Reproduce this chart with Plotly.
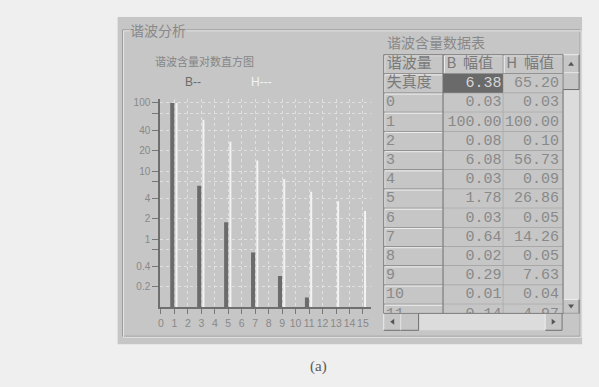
import plotly.graph_objects as go

W, H = 599, 387

# Harmonic spectrum, amplitude in % of the fundamental
harmonics = list(range(16))
b_amp = [0.03, 100.00, 0.08, 6.08, 0.03, 1.78, 0.03, 0.64, 0.02, 0.29, 0.01, 0.14, 0.01, 0.06, 0.01, 0.04]
h_amp = [0.03, 100.00, 0.10, 56.73, 0.09, 26.86, 0.05, 14.26, 0.05, 7.63, 0.04, 4.97, 0.03, 3.60, 0.03, 2.60]
y_ticks = [0.2, 0.4, 1, 2, 4, 10, 20, 40, 100]
y_tick_labels = ["0.2", "0.4", "1", "2", "4", "10", "20", "40", "100"]
y_minor = [0.7, 7, 70]

# Data table
table_header = ["谐波量", "B  幅值", "H  幅值"]
thd_label = "失真度"
thd_b = 6.38
thd_h = 65.20
table_orders = list(range(12))

PAGE = "#efefef"
PANEL = "#c6c6c6"
TRACK = "#dcdcdc"
TEXT = "#898989"
DARK = "#6e6e6e"
LIGHT = "#ececec"
BAR_B = "#6b6b6b"
BAR_H = "#f3f3f3"
CJK = "Noto Sans CJK SC"
MONO = "Liberation Mono"


def fx(x):
    return x / W


def fy(y):
    return 1 - y / H


shapes = []
annotations = []


def prect(x0, y0, x1, y1, fill, line=None, layer="below", width=1):
    shapes.append(dict(type="rect", xref="paper", yref="paper",
                       x0=fx(x0), x1=fx(x1), y0=fy(y1), y1=fy(y0),
                       fillcolor=fill, layer=layer,
                       line=dict(color=line or fill, width=width if line else 0)))


def pline(x0, y0, x1, y1, color, layer="below", width=1):
    shapes.append(dict(type="line", xref="paper", yref="paper",
                       x0=fx(x0), x1=fx(x1), y0=fy(y0), y1=fy(y1),
                       layer=layer, line=dict(color=color, width=width)))


def ptri(points, color="#555555"):
    d = "M " + " L ".join("%.5f,%.5f" % (fx(x), fy(y)) for x, y in points) + " Z"
    shapes.append(dict(type="path", xref="paper", yref="paper", path=d,
                       fillcolor=color, layer="above", line=dict(width=0)))


def raised(x0, y0, x1, y1, layer="above"):
    prect(x0, y0, x1, y1, PANEL, layer=layer)
    pline(x0, y0, x1, y0, LIGHT, layer)
    pline(x0, y0, x0, y1, LIGHT, layer)
    pline(x0, y1, x1, y1, DARK, layer)
    pline(x1, y0, x1, y1, DARK, layer)


# dialog panel
prect(116, 15, 582, 344, PANEL)

# etched group box
for off, col in ((0, "#9a9a9a"), (1, "#e6e6e6")):
    pline(121 + off, 28 + off, 580 + off, 28 + off, col)
    pline(121 + off, 28 + off, 121 + off, 336 + off, col)
    pline(121 + off, 336 + off, 580 + off, 336 + off, col)
    pline(580 + off, 28 + off, 580 + off, 336 + off, col)

annotations.append(dict(text="谐波分析", x=fx(127), y=fy(28), xref="paper", yref="paper",
                        xanchor="left", yanchor="middle", showarrow=False, bgcolor=PANEL,
                        borderpad=0, font=dict(family=CJK, size=14, color=TEXT)))
annotations.append(dict(text="谐波含量对数直方图", x=fx(203), y=fy(59), xref="paper", yref="paper",
                        xanchor="center", yanchor="middle", showarrow=False,
                        font=dict(family=CJK, size=11, color="#858585")))
annotations.append(dict(text="B--", x=fx(182), y=fy(80), xref="paper", yref="paper",
                        xanchor="left", yanchor="middle", showarrow=False,
                        font=dict(family="Liberation Sans", size=12, color=BAR_B)))
annotations.append(dict(text="H---", x=fx(248), y=fy(80), xref="paper", yref="paper",
                        xanchor="left", yanchor="middle", showarrow=False,
                        font=dict(family="Liberation Sans", size=12, color=BAR_H)))
annotations.append(dict(text="谐波含量数据表", x=fx(384), y=fy(40), xref="paper", yref="paper",
                        xanchor="left", yanchor="middle", showarrow=False,
                        font=dict(family=CJK, size=14, color=TEXT)))
annotations.append(dict(text="(a)", x=fx(318), y=fy(366), xref="paper", yref="paper",
                        xanchor="center", yanchor="middle", showarrow=False,
                        font=dict(family="Liberation Serif", size=15, color="#5a5a5a")))

fig = go.Figure()

# spectrum bars
fig.add_trace(go.Bar(x=harmonics, y=b_amp, width=0.3, offset=-0.31,
                     marker=dict(color=BAR_B, line=dict(width=0)), name="B",
                     xaxis="x", yaxis="y"))
fig.add_trace(go.Bar(x=harmonics, y=h_amp, width=0.15, offset=0.08,
                     marker=dict(color=BAR_H, line=dict(width=0)), name="H",
                     xaxis="x", yaxis="y"))

# ---- data table on its own axes: columns 0..3, rows 0 (header) downward ----
n_rows = 2 + len(table_orders)
row_px = 19.3
visible_rows = (313 - 53) / row_px
rx = 3 / 180.0          # one pixel in column units
ry = 1 / row_px         # one pixel in row units


def tline(x0, y0, x1, y1, color, width=1):
    shapes.append(dict(type="line", xref="x2", yref="y2", x0=x0, x1=x1, y0=y0, y1=y1,
                       layer="below", line=dict(color=color, width=width)))


def trect(x0, y0, x1, y1, fill):
    shapes.append(dict(type="rect", xref="x2", yref="y2", x0=x0, x1=x1, y0=y0, y1=y1,
                       layer="below", fillcolor=fill, line=dict(width=0)))


for r in range(n_rows):
    for c in range(3):
        if r == 0 or c == 0:
            trect(c, r, c + 1, r + 1, PANEL)
            tline(c + rx, r + ry, c + 1 - rx, r + ry, LIGHT)
            tline(c + rx, r + ry, c + rx, r + 1 - ry, LIGHT)
            tline(c, r + 1, c + 1, r + 1, DARK)
            tline(c + 1, r, c + 1, r + 1, DARK, 2 if c == 0 else 1)
        else:
            selected = (r == 1 and c == 1)
            trect(c, r, c + 1, r + 1, "#6a6a6a" if selected else PANEL)
            tline(c, r + 1, c + 1, r + 1, "#939393")
            tline(c + 1, r, c + 1, r + 1, "#939393")

# header texts
fig.add_trace(go.Scatter(x=[0.05, 1.05, 2.05], y=[0.5, 0.5, 0.5], text=table_header,
                         mode="text", textposition="middle right",
                         textfont=dict(family=CJK, size=15, color="#7a7a7a"),
                         xaxis="x2", yaxis="y2", hoverinfo="skip", cliponaxis=True))
# THD row label
fig.add_trace(go.Scatter(x=[0.05], y=[1.5], text=[thd_label], mode="text",
                         textposition="middle right",
                         textfont=dict(family=CJK, size=15, color="#7a7a7a"),
                         xaxis="x2", yaxis="y2", hoverinfo="skip", cliponaxis=True))
# harmonic order labels
fig.add_trace(go.Scatter(x=[0.04] * len(table_orders),
                         y=[2.5 + i for i in range(len(table_orders))],
                         text=[str(k) for k in table_orders], mode="text",
                         textposition="middle right",
                         textfont=dict(family=MONO, size=15, color=TEXT),
                         xaxis="x2", yaxis="y2", hoverinfo="skip", cliponaxis=True))
# B and H amplitude columns
b_col = [thd_b] + [b_amp[k] for k in table_orders]
h_col = [thd_h] + [h_amp[k] for k in table_orders]
row_y = [1.5 + i for i in range(len(b_col))]
fig.add_trace(go.Scatter(x=[1.97] * len(b_col), y=row_y,
                         text=["%.2f" % v for v in b_col], mode="text",
                         textposition="middle left",
                         textfont=dict(family=MONO, size=15,
                                       color=["#d6d6d6"] + [TEXT] * (len(b_col) - 1)),
                         xaxis="x2", yaxis="y2", hoverinfo="skip", cliponaxis=True))
fig.add_trace(go.Scatter(x=[2.93] * len(h_col), y=row_y,
                         text=["%.2f" % v for v in h_col], mode="text",
                         textposition="middle left",
                         textfont=dict(family=MONO, size=15, color=TEXT),
                         xaxis="x2", yaxis="y2", hoverinfo="skip", cliponaxis=True))

# scrollbars
prect(563, 53, 579, 313, TRACK, layer="above")
raised(563, 53, 579, 71)
raised(563, 71, 579, 88)
raised(563, 299, 579, 313)
prect(383, 313, 563, 330, TRACK, layer="above")
raised(383, 313, 400, 330)
raised(400, 313, 418, 330)
raised(545, 313, 562, 330)
prect(563, 313, 579, 330, PANEL, layer="above")
prect(383, 53, 563, 313, "rgba(0,0,0,0)", line="#7a7a7a", layer="above")
# arrow glyphs on the scroll buttons
ptri([(568, 64), (574, 64), (571, 60)])
ptri([(568, 304), (574, 304), (571, 308)])
ptri([(393.5, 318.5), (393.5, 324.5), (389.5, 321.5)])
ptri([(551.5, 318.5), (551.5, 324.5), (555.5, 321.5)])

fig.update_layout(
    width=W, height=H, autosize=False,
    margin=dict(l=0, r=0, t=0, b=0),
    paper_bgcolor=PAGE, plot_bgcolor="rgba(0,0,0,0)",
    showlegend=False, barmode="overlay",
    shapes=shapes, annotations=annotations,
    xaxis=dict(domain=[fx(158.8), fx(370)], range=[-0.05, 15.58],
               tickmode="array", tickvals=harmonics, ticktext=[str(k) for k in harmonics],
               tickangle=0,
               ticks="outside", ticklen=5, tickcolor="#777777",
               showline=True, linecolor="#6f6f6f", linewidth=2,
               showgrid=True, gridcolor="#e0e0e0", griddash="dot", gridwidth=1,
               zeroline=False, fixedrange=True,
               tickfont=dict(family="Liberation Sans Narrow, Liberation Sans", size=10.5, color=TEXT),
               anchor="y"),
    yaxis=dict(domain=[fy(307), fy(98)], type="log", range=[-1, 2.05],
               tickmode="array", tickvals=y_ticks, ticktext=y_tick_labels,
               ticks="outside", ticklen=6, tickcolor="#777777",
               minor=dict(tickvals=y_minor, ticks="outside", ticklen=6,
                          tickcolor="#777777", showgrid=True,
                          gridcolor="#e0e0e0", griddash="dot"),
               showline=True, linecolor="#6f6f6f", linewidth=2,
               showgrid=True, gridcolor="#e0e0e0", griddash="dot", gridwidth=1,
               zeroline=False, fixedrange=True,
               tickfont=dict(family="Liberation Sans", size=10, color=TEXT),
               anchor="x"),
    xaxis2=dict(domain=[fx(383), fx(563)], range=[0, 3], visible=False,
                fixedrange=True, anchor="y2"),
    yaxis2=dict(domain=[fy(313), fy(53)], range=[visible_rows, 0], visible=False,
                fixedrange=True, anchor="x2"),
)

fig.write_html("out.html")
